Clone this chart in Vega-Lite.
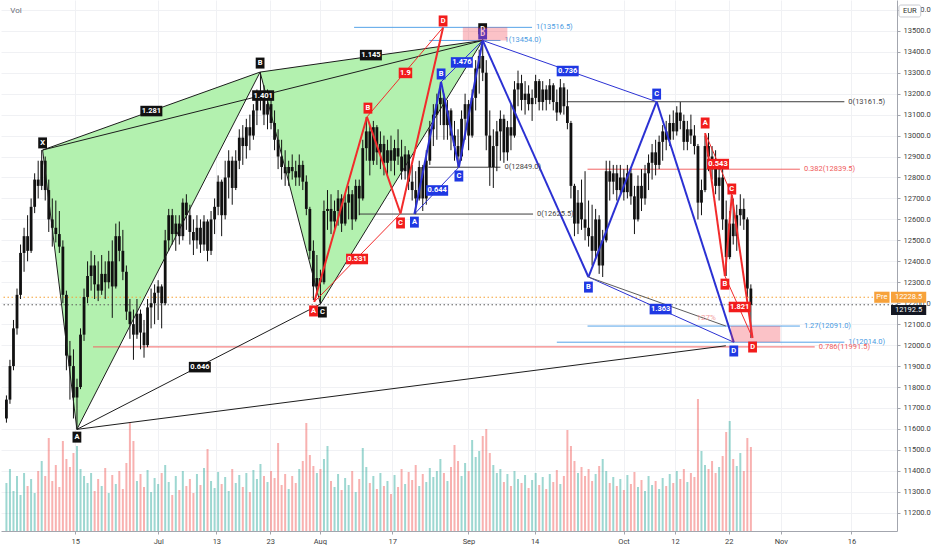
{
  "$schema": "https://vega.github.io/schema/vega-lite/v6.json",
  "description": "DAX futures Jun-Oct 2020 with harmonic XABCD / ABCD pattern drawings",
  "width": 896,
  "height": 531,
  "padding": 0,
  "autosize": {"type": "pad"},
  "background": "#ffffff",
  "config": {
    "view": {"stroke": null},
    "font": "Roboto",
    "axis": {"labelFont": "Roboto", "labelFontSize": 7.5, "labelColor": "#3c3c3c", "domainColor": "#a3a6ae", "tickColor": "#a3a6ae", "gridColor": "#f0f1f4"},
    "text": {"font": "Roboto"}
  },
  "datasets": {
    "px": [
      {"t":-9.75,"o":11650,"h":11760,"l":11630,"c":11740,"v":48},
      {"t":-9.25,"o":11740,"h":11930,"l":11720,"c":11900,"v":62},
      {"t":-8.75,"o":11900,"h":12120,"l":11880,"c":12080,"v":40},
      {"t":-8.25,"o":12080,"h":12270,"l":12050,"c":12240,"v":55},
      {"t":-7.75,"o":12240,"h":12480,"l":12220,"c":12440,"v":36},
      {"t":-7.25,"o":12440,"h":12560,"l":12350,"c":12520,"v":58},
      {"t":-6.75,"o":12520,"h":12620,"l":12400,"c":12450,"v":45},
      {"t":-6.25,"o":12450,"h":12700,"l":12440,"c":12660,"v":52},
      {"t":-5.75,"o":12660,"h":12820,"l":12630,"c":12790,"v":38},
      {"t":-5.25,"o":12790,"h":12880,"l":12700,"c":12760,"v":60},
      {"t":-4.75,"o":12760,"h":12931,"l":12740,"c":12880,"v":70},
      {"t":-4.25,"o":12880,"h":12900,"l":12690,"c":12740,"v":55},
      {"t":-3.75,"o":12740,"h":12790,"l":12540,"c":12600,"v":93},
      {"t":-3.25,"o":12600,"h":12700,"l":12470,"c":12560,"v":50},
      {"t":-2.75,"o":12560,"h":12690,"l":12490,"c":12530,"v":66},
      {"t":-2.25,"o":12530,"h":12640,"l":12440,"c":12470,"v":44},
      {"t":-1.75,"o":12470,"h":12500,"l":12200,"c":12240,"v":90},
      {"t":-1.25,"o":12240,"h":12260,"l":11880,"c":11950,"v":72},
      {"t":-0.75,"o":11950,"h":12020,"l":11740,"c":11900,"v":64},
      {"t":-0.25,"o":11900,"h":11980,"l":11650,"c":11750,"v":78},
      {"t":0.25,"o":11750,"h":11840,"l":11598,"c":11800,"v":85},
      {"t":0.75,"o":11800,"h":12080,"l":11790,"c":12050,"v":62},
      {"t":1.25,"o":12050,"h":12270,"l":12020,"c":12230,"v":55},
      {"t":1.75,"o":12230,"h":12400,"l":12200,"c":12330,"v":48},
      {"t":2.25,"o":12330,"h":12450,"l":12260,"c":12380,"v":58},
      {"t":2.75,"o":12380,"h":12430,"l":12220,"c":12290,"v":40},
      {"t":3.25,"o":12290,"h":12400,"l":12210,"c":12260,"v":52},
      {"t":3.75,"o":12260,"h":12430,"l":12240,"c":12340,"v":45},
      {"t":4.25,"o":12340,"h":12400,"l":12220,"c":12300,"v":63},
      {"t":4.75,"o":12300,"h":12450,"l":12270,"c":12400,"v":38},
      {"t":5.25,"o":12400,"h":12500,"l":12130,"c":12280,"v":56},
      {"t":5.75,"o":12280,"h":12580,"l":12270,"c":12520,"v":47},
      {"t":6.25,"o":12520,"h":12590,"l":12400,"c":12450,"v":60},
      {"t":6.75,"o":12450,"h":12550,"l":12310,"c":12350,"v":42},
      {"t":7.25,"o":12350,"h":12380,"l":12120,"c":12160,"v":68},
      {"t":7.75,"o":12160,"h":12220,"l":12030,"c":12100,"v":108},
      {"t":8.25,"o":12100,"h":12170,"l":11930,"c":12050,"v":90},
      {"t":8.75,"o":12050,"h":12220,"l":12030,"c":12150,"v":50},
      {"t":9.25,"o":12150,"h":12170,"l":11980,"c":12060,"v":57},
      {"t":9.75,"o":12060,"h":12120,"l":11940,"c":12000,"v":44},
      {"t":10.25,"o":12000,"h":12220,"l":11990,"c":12180,"v":61},
      {"t":10.75,"o":12180,"h":12270,"l":12080,"c":12200,"v":39},
      {"t":11.25,"o":12200,"h":12290,"l":12100,"c":12250,"v":53},
      {"t":11.75,"o":12250,"h":12310,"l":12120,"c":12280,"v":47},
      {"t":12.25,"o":12280,"h":12290,"l":12080,"c":12200,"v":58},
      {"t":12.75,"o":12200,"h":12550,"l":12190,"c":12500,"v":66},
      {"t":13.25,"o":12500,"h":12650,"l":12450,"c":12620,"v":49},
      {"t":13.75,"o":12620,"h":12650,"l":12480,"c":12530,"v":36},
      {"t":14.25,"o":12530,"h":12620,"l":12450,"c":12580,"v":55},
      {"t":14.75,"o":12580,"h":12620,"l":12480,"c":12520,"v":41},
      {"t":15.25,"o":12520,"h":12700,"l":12500,"c":12680,"v":60},
      {"t":15.75,"o":12680,"h":12720,"l":12550,"c":12620,"v":45},
      {"t":16.25,"o":12620,"h":12670,"l":12480,"c":12540,"v":52},
      {"t":16.75,"o":12540,"h":12600,"l":12430,"c":12500,"v":38},
      {"t":17.25,"o":12500,"h":12620,"l":12460,"c":12560,"v":57},
      {"t":17.75,"o":12560,"h":12600,"l":12440,"c":12480,"v":46},
      {"t":18.25,"o":12480,"h":12620,"l":12450,"c":12590,"v":63},
      {"t":18.75,"o":12590,"h":12600,"l":12400,"c":12450,"v":82},
      {"t":19.25,"o":12450,"h":12640,"l":12430,"c":12600,"v":50},
      {"t":19.75,"o":12600,"h":12700,"l":12530,"c":12660,"v":43},
      {"t":20.25,"o":12660,"h":12810,"l":12620,"c":12780,"v":59},
      {"t":20.75,"o":12780,"h":12790,"l":12520,"c":12620,"v":47},
      {"t":21.25,"o":12620,"h":12880,"l":12600,"c":12800,"v":54},
      {"t":21.75,"o":12800,"h":12930,"l":12700,"c":12880,"v":40},
      {"t":22.25,"o":12880,"h":12900,"l":12670,"c":12750,"v":62},
      {"t":22.75,"o":12750,"h":12930,"l":12740,"c":12880,"v":48},
      {"t":23.25,"o":12880,"h":13030,"l":12840,"c":12990,"v":56},
      {"t":23.75,"o":12990,"h":13050,"l":12860,"c":12950,"v":44},
      {"t":24.25,"o":12950,"h":13080,"l":12890,"c":13040,"v":58},
      {"t":24.75,"o":13040,"h":13100,"l":12930,"c":13000,"v":39},
      {"t":25.25,"o":13000,"h":13150,"l":12980,"c":13120,"v":61},
      {"t":25.75,"o":13120,"h":13220,"l":13050,"c":13190,"v":52},
      {"t":26.25,"o":13190,"h":13303,"l":13120,"c":13200,"v":67},
      {"t":26.75,"o":13200,"h":13240,"l":13050,"c":13100,"v":55},
      {"t":27.25,"o":13100,"h":13220,"l":13030,"c":13150,"v":49},
      {"t":27.75,"o":13150,"h":13190,"l":13030,"c":13060,"v":60},
      {"t":28.25,"o":13060,"h":13120,"l":12930,"c":12980,"v":53},
      {"t":28.75,"o":12980,"h":13030,"l":12840,"c":12900,"v":88},
      {"t":29.25,"o":12900,"h":12980,"l":12790,"c":12850,"v":46},
      {"t":29.75,"o":12850,"h":12930,"l":12760,"c":12820,"v":57},
      {"t":30.25,"o":12820,"h":12880,"l":12760,"c":12850,"v":42},
      {"t":30.75,"o":12850,"h":12910,"l":12790,"c":12830,"v":55},
      {"t":31.25,"o":12830,"h":12880,"l":12760,"c":12800,"v":48},
      {"t":31.75,"o":12800,"h":12910,"l":12760,"c":12860,"v":62},
      {"t":32.25,"o":12860,"h":12880,"l":12740,"c":12780,"v":70},
      {"t":32.75,"o":12780,"h":12810,"l":12620,"c":12650,"v":108},
      {"t":33.25,"o":12650,"h":12660,"l":12410,"c":12450,"v":76},
      {"t":33.75,"o":12450,"h":12500,"l":12215,"c":12280,"v":65},
      {"t":34.25,"o":12280,"h":12430,"l":12240,"c":12320,"v":58},
      {"t":34.75,"o":12320,"h":12360,"l":12196,"c":12300,"v":62},
      {"t":35.25,"o":12300,"h":12690,"l":12290,"c":12640,"v":72},
      {"t":35.75,"o":12640,"h":12740,"l":12550,"c":12650,"v":85},
      {"t":36.25,"o":12650,"h":12720,"l":12530,"c":12590,"v":50},
      {"t":36.75,"o":12590,"h":12690,"l":12550,"c":12640,"v":44},
      {"t":37.25,"o":12640,"h":12740,"l":12570,"c":12700,"v":57},
      {"t":37.75,"o":12700,"h":12720,"l":12540,"c":12580,"v":41},
      {"t":38.25,"o":12580,"h":12720,"l":12570,"c":12680,"v":53},
      {"t":38.75,"o":12680,"h":12760,"l":12600,"c":12720,"v":46},
      {"t":39.25,"o":12720,"h":12740,"l":12550,"c":12600,"v":60},
      {"t":39.75,"o":12600,"h":12790,"l":12590,"c":12760,"v":39},
      {"t":40.25,"o":12760,"h":12790,"l":12620,"c":12700,"v":52},
      {"t":40.75,"o":12700,"h":12980,"l":12690,"c":12940,"v":83},
      {"t":41.25,"o":12940,"h":13089,"l":12880,"c":13020,"v":64},
      {"t":41.75,"o":13020,"h":13050,"l":12810,"c":12880,"v":48},
      {"t":42.25,"o":12880,"h":13070,"l":12860,"c":13040,"v":55},
      {"t":42.75,"o":13040,"h":13050,"l":12860,"c":12920,"v":42},
      {"t":43.25,"o":12920,"h":13020,"l":12840,"c":12960,"v":58},
      {"t":43.75,"o":12960,"h":13000,"l":12810,"c":12870,"v":45},
      {"t":44.25,"o":12870,"h":12980,"l":12810,"c":12930,"v":50},
      {"t":44.75,"o":12930,"h":13000,"l":12830,"c":12880,"v":37},
      {"t":45.25,"o":12880,"h":12980,"l":12810,"c":12940,"v":56},
      {"t":45.75,"o":12940,"h":13030,"l":12860,"c":12900,"v":44},
      {"t":46.25,"o":12900,"h":12980,"l":12790,"c":12830,"v":62},
      {"t":46.75,"o":12830,"h":12950,"l":12790,"c":12910,"v":47},
      {"t":47.25,"o":12910,"h":12930,"l":12740,"c":12780,"v":59},
      {"t":47.75,"o":12780,"h":12860,"l":12690,"c":12740,"v":51},
      {"t":48.25,"o":12740,"h":12830,"l":12625,"c":12700,"v":66},
      {"t":48.75,"o":12700,"h":12880,"l":12690,"c":12850,"v":45},
      {"t":49.25,"o":12850,"h":12860,"l":12640,"c":12700,"v":57},
      {"t":49.75,"o":12700,"h":12930,"l":12670,"c":12880,"v":49},
      {"t":50.25,"o":12880,"h":13070,"l":12860,"c":13030,"v":63},
      {"t":50.75,"o":13030,"h":13150,"l":12950,"c":13100,"v":54},
      {"t":51.25,"o":13100,"h":13200,"l":12980,"c":13150,"v":60},
      {"t":51.75,"o":13150,"h":13256,"l":13050,"c":13180,"v":72},
      {"t":52.25,"o":13180,"h":13200,"l":12980,"c":13050,"v":58},
      {"t":52.75,"o":13050,"h":13170,"l":12980,"c":13120,"v":50},
      {"t":53.25,"o":13120,"h":13130,"l":12930,"c":13000,"v":64},
      {"t":53.75,"o":13000,"h":13070,"l":12880,"c":12950,"v":86},
      {"t":54.25,"o":12950,"h":13030,"l":12849,"c":12900,"v":70},
      {"t":54.75,"o":12900,"h":13120,"l":12880,"c":13080,"v":55},
      {"t":55.25,"o":13080,"h":13200,"l":12980,"c":13150,"v":68},
      {"t":55.75,"o":13150,"h":13170,"l":12930,"c":13000,"v":60},
      {"t":56.25,"o":13000,"h":13220,"l":12990,"c":13180,"v":91},
      {"t":56.75,"o":13180,"h":13360,"l":13120,"c":13320,"v":74},
      {"t":57.25,"o":13320,"h":13410,"l":13200,"c":13380,"v":80},
      {"t":57.75,"o":13380,"h":13460,"l":13260,"c":13300,"v":95},
      {"t":58.25,"o":13300,"h":13360,"l":12930,"c":13000,"v":102},
      {"t":58.75,"o":13000,"h":13120,"l":12760,"c":12850,"v":78},
      {"t":59.25,"o":12850,"h":13030,"l":12750,"c":12950,"v":66},
      {"t":59.75,"o":12950,"h":13070,"l":12830,"c":13020,"v":58},
      {"t":60.25,"o":13020,"h":13120,"l":12880,"c":13080,"v":62},
      {"t":60.75,"o":13080,"h":13100,"l":12870,"c":12920,"v":49},
      {"t":61.25,"o":12920,"h":13070,"l":12880,"c":13040,"v":57},
      {"t":61.75,"o":13040,"h":13150,"l":12930,"c":13000,"v":45},
      {"t":62.25,"o":13000,"h":13260,"l":12990,"c":13220,"v":60},
      {"t":62.75,"o":13220,"h":13310,"l":13140,"c":13250,"v":52},
      {"t":63.25,"o":13250,"h":13290,"l":13120,"c":13170,"v":48},
      {"t":63.75,"o":13170,"h":13260,"l":13100,"c":13200,"v":56},
      {"t":64.25,"o":13200,"h":13240,"l":13120,"c":13150,"v":43},
      {"t":64.75,"o":13150,"h":13220,"l":13070,"c":13180,"v":51},
      {"t":65.25,"o":13180,"h":13290,"l":13150,"c":13260,"v":58},
      {"t":65.75,"o":13260,"h":13270,"l":13120,"c":13160,"v":46},
      {"t":66.25,"o":13160,"h":13260,"l":13120,"c":13220,"v":54},
      {"t":66.75,"o":13220,"h":13240,"l":13120,"c":13170,"v":42},
      {"t":67.25,"o":13170,"h":13270,"l":13150,"c":13240,"v":57},
      {"t":67.75,"o":13240,"h":13250,"l":13120,"c":13160,"v":49},
      {"t":68.25,"o":13160,"h":13220,"l":13070,"c":13110,"v":61},
      {"t":68.75,"o":13110,"h":13270,"l":13100,"c":13230,"v":47},
      {"t":69.25,"o":13230,"h":13250,"l":13100,"c":13140,"v":55},
      {"t":69.75,"o":13140,"h":13220,"l":13030,"c":13060,"v":101},
      {"t":70.25,"o":13060,"h":13070,"l":12700,"c":12760,"v":85},
      {"t":70.75,"o":12760,"h":12770,"l":12520,"c":12580,"v":70},
      {"t":71.25,"o":12580,"h":12740,"l":12530,"c":12680,"v":58},
      {"t":71.75,"o":12680,"h":12790,"l":12550,"c":12600,"v":64},
      {"t":72.25,"o":12600,"h":12830,"l":12500,"c":12560,"v":55},
      {"t":72.75,"o":12560,"h":12690,"l":12470,"c":12520,"v":62},
      {"t":73.25,"o":12520,"h":12670,"l":12380,"c":12450,"v":50},
      {"t":73.75,"o":12450,"h":12650,"l":12410,"c":12600,"v":57},
      {"t":74.25,"o":12600,"h":12620,"l":12340,"c":12380,"v":65},
      {"t":74.75,"o":12380,"h":12550,"l":12325,"c":12500,"v":72},
      {"t":75.25,"o":12500,"h":12880,"l":12490,"c":12830,"v":60},
      {"t":75.75,"o":12830,"h":12880,"l":12690,"c":12780,"v":48},
      {"t":76.25,"o":12780,"h":12860,"l":12720,"c":12820,"v":54},
      {"t":76.75,"o":12820,"h":12860,"l":12690,"c":12740,"v":45},
      {"t":77.25,"o":12740,"h":12860,"l":12720,"c":12800,"v":52},
      {"t":77.75,"o":12800,"h":12840,"l":12690,"c":12730,"v":41},
      {"t":78.25,"o":12730,"h":12860,"l":12700,"c":12820,"v":56},
      {"t":78.75,"o":12820,"h":12840,"l":12670,"c":12710,"v":47},
      {"t":79.25,"o":12710,"h":12760,"l":12530,"c":12600,"v":59},
      {"t":79.75,"o":12600,"h":12810,"l":12590,"c":12760,"v":44},
      {"t":80.25,"o":12760,"h":12840,"l":12640,"c":12700,"v":51},
      {"t":80.75,"o":12700,"h":12860,"l":12670,"c":12820,"v":40},
      {"t":81.25,"o":12820,"h":12910,"l":12740,"c":12870,"v":55},
      {"t":81.75,"o":12870,"h":12960,"l":12790,"c":12920,"v":46},
      {"t":82.25,"o":12920,"h":12980,"l":12810,"c":12860,"v":50},
      {"t":82.75,"o":12860,"h":13000,"l":12840,"c":12970,"v":42},
      {"t":83.25,"o":12970,"h":13050,"l":12880,"c":13020,"v":53},
      {"t":83.75,"o":13020,"h":13070,"l":12930,"c":12980,"v":45},
      {"t":84.25,"o":12980,"h":13100,"l":12950,"c":13060,"v":57},
      {"t":84.75,"o":13060,"h":13120,"l":12980,"c":13020,"v":48},
      {"t":85.25,"o":13020,"h":13140,"l":13000,"c":13110,"v":60},
      {"t":85.75,"o":13110,"h":13160,"l":13030,"c":13070,"v":52},
      {"t":86.25,"o":13070,"h":13100,"l":12930,"c":12970,"v":62},
      {"t":86.75,"o":12970,"h":13070,"l":12930,"c":13030,"v":49},
      {"t":87.25,"o":13030,"h":13100,"l":12960,"c":13000,"v":58},
      {"t":87.75,"o":13000,"h":13050,"l":12910,"c":12950,"v":54},
      {"t":88.25,"o":12950,"h":12960,"l":12600,"c":12680,"v":132},
      {"t":88.75,"o":12680,"h":12790,"l":12620,"c":12740,"v":80},
      {"t":89.25,"o":12740,"h":13000,"l":12730,"c":12950,"v":66},
      {"t":89.75,"o":12950,"h":13012,"l":12830,"c":12900,"v":62},
      {"t":90.25,"o":12900,"h":12950,"l":12790,"c":12850,"v":70},
      {"t":90.75,"o":12850,"h":12930,"l":12720,"c":12760,"v":58},
      {"t":91.25,"o":12760,"h":12880,"l":12690,"c":12800,"v":64},
      {"t":91.75,"o":12800,"h":12840,"l":12550,"c":12600,"v":75},
      {"t":92.25,"o":12600,"h":12690,"l":12330,"c":12420,"v":99},
      {"t":92.75,"o":12420,"h":12640,"l":12410,"c":12580,"v":110},
      {"t":93.25,"o":12580,"h":12700,"l":12480,"c":12520,"v":72},
      {"t":93.75,"o":12520,"h":12670,"l":12450,"c":12620,"v":65},
      {"t":94.25,"o":12620,"h":12720,"l":12570,"c":12650,"v":78},
      {"t":94.75,"o":12650,"h":12700,"l":12550,"c":12600,"v":60},
      {"t":95.25,"o":12600,"h":12610,"l":12230,"c":12270,"v":93},
      {"t":95.75,"o":12270,"h":12290,"l":12034,"c":12192.5,"v":84}
    ],
    "fills": [
      {"tri":"XAB","t":-4.62,"top":12931,"bot":12931},
      {"tri":"XAB","t":0.24,"top":12990,"bot":11598},
      {"tri":"XAB","t":26.2,"top":13303,"bot":13303},
      {"tri":"BCD","t":26.2,"top":13303,"bot":13303},
      {"tri":"BCD","t":34.75,"top":13344,"bot":12196},
      {"tri":"BCD","t":57.74,"top":13454,"bot":13454}
    ],
    "zones": [
      {"zone":"D top","t1":54.93,"t2":61.24,"p1":13454,"p2":13516.5},
      {"zone":"D bottom","t1":92.91,"t2":99.92,"p1":12014,"p2":12091}
    ],
    "fibs": [
      {"lab":"1(13516.5)","grp":"blue","p":13516.5,"t1":39.52,"t2":64.74},
      {"lab":"1(13454.0)","grp":"blue","p":13454,"t1":50.17,"t2":60.26},
      {"lab":"0(12849.0)","grp":"grey","p":12849,"t1":50.03,"t2":60.26},
      {"lab":"0(12625.5)","grp":"grey","p":12625.5,"t1":40.22,"t2":64.88},
      {"lab":"0(13161.5)","grp":"grey","p":13161.5,"t1":69.65,"t2":109.0},
      {"lab":"0.382(12839.5)","grp":"red","p":12839.5,"t1":72.6,"t2":102.7},
      {"lab":"1.27(12091.0)","grp":"blue","p":12091,"t1":72.6,"t2":102.7},
      {"lab":"1(12014.0)","grp":"blue","p":12014,"t1":68.25,"t2":109.0},
      {"lab":"0.786(11991.5)","grp":"red","p":11991.5,"t1":2.52,"t2":104.8}
    ],
    "legs": [
      {"grp":"green","role":"leg","t1":-4.62,"p1":12931,"t2":0.24,"p2":11598},
      {"grp":"green","role":"leg","t1":0.24,"p1":11598,"t2":26.2,"p2":13303},
      {"grp":"green","role":"leg","t1":26.2,"p1":13303,"t2":34.75,"p2":12196},
      {"grp":"green","role":"leg","t1":34.75,"p1":12196,"t2":57.74,"p2":13454},
      {"grp":"green","role":"ratio","t1":-4.62,"p1":12931,"t2":26.2,"p2":13303},
      {"grp":"green","role":"ratio","t1":0.24,"p1":11598,"t2":34.75,"p2":12196},
      {"grp":"green","role":"ratio","t1":26.2,"p1":13303,"t2":57.74,"p2":13454},
      {"grp":"green","role":"ratio","t1":-4.62,"p1":12931,"t2":57.74,"p2":13454},
      {"grp":"red1","role":"leg","t1":33.87,"p1":12206,"t2":41.34,"p2":13089},
      {"grp":"red1","role":"leg","t1":41.34,"p1":13089,"t2":46.1,"p2":12628},
      {"grp":"red1","role":"leg","t1":46.1,"p1":12628,"t2":52.13,"p2":13516},
      {"grp":"red1","role":"ratio","t1":33.87,"p1":12206,"t2":46.1,"p2":12628},
      {"grp":"red1","role":"ratio","t1":41.34,"p1":13089,"t2":52.13,"p2":13516},
      {"grp":"blue1","role":"leg","t1":48.07,"p1":12625.5,"t2":51.85,"p2":13256},
      {"grp":"blue1","role":"leg","t1":51.85,"p1":13256,"t2":54.37,"p2":12849},
      {"grp":"blue1","role":"leg","t1":54.37,"p1":12849,"t2":57.74,"p2":13454},
      {"grp":"blue1","role":"ratio","t1":48.07,"p1":12625.5,"t2":54.37,"p2":12849},
      {"grp":"blue1","role":"ratio","t1":51.85,"p1":13256,"t2":57.74,"p2":13454},
      {"grp":"blue2","role":"leg","t1":57.74,"p1":13454,"t2":72.73,"p2":12325},
      {"grp":"blue2","role":"leg","t1":72.73,"p1":12325,"t2":82.4,"p2":13161.5},
      {"grp":"blue2","role":"leg","t1":82.4,"p1":13161.5,"t2":93.33,"p2":12014},
      {"grp":"blue2","role":"ratio","t1":57.74,"p1":13454,"t2":82.4,"p2":13161.5},
      {"grp":"blue2","role":"ratio","t1":72.73,"p1":12325,"t2":93.33,"p2":12014},
      {"grp":"red2","role":"leg","t1":89.27,"p1":13012,"t2":92.07,"p2":12330},
      {"grp":"red2","role":"leg","t1":92.07,"p1":12330,"t2":93.05,"p2":12716},
      {"grp":"red2","role":"leg","t1":93.05,"p1":12716,"t2":95.99,"p2":12034},
      {"grp":"red2","role":"ratio","t1":89.27,"p1":13012,"t2":93.05,"p2":12716},
      {"grp":"red2","role":"ratio","t1":92.07,"p1":12330,"t2":95.99,"p2":12034},
      {"grp":"black","role":"ratio","t1":0.24,"p1":11598,"t2":92.2,"p2":11997},
      {"grp":"grey","role":"ratio","t1":72.73,"p1":12325,"t2":92.2,"p2":12091}
    ],
    "labels": [
      {"lab":"X","grp":"green","t":-4.62,"p":12965},
      {"lab":"A","grp":"green","t":0.24,"p":11561},
      {"lab":"B","grp":"green","t":26.2,"p":13346},
      {"lab":"C","grp":"green","t":35.03,"p":12158},
      {"lab":"D","grp":"green","t":57.74,"p":13510},
      {"lab":"1.281","grp":"green","t":10.79,"p":13117},
      {"lab":"1.401","grp":"green","t":26.63,"p":13191},
      {"lab":"1.145","grp":"green","t":41.9,"p":13384},
      {"lab":"0.646","grp":"green","t":17.66,"p":11895},
      {"lab":"A","grp":"red1","t":33.77,"p":12163},
      {"lab":"B","grp":"red1","t":41.48,"p":13131},
      {"lab":"C","grp":"red1","t":46.1,"p":12583},
      {"lab":"D","grp":"red1","t":52.13,"p":13547},
      {"lab":"1.9","grp":"red1","t":46.8,"p":13299},
      {"lab":"0.531","grp":"red1","t":39.94,"p":12411},
      {"lab":"A","grp":"blue1","t":48.07,"p":12587},
      {"lab":"B","grp":"blue1","t":51.85,"p":13294},
      {"lab":"C","grp":"blue1","t":54.37,"p":12807},
      {"lab":"D","grp":"blue1","t":57.74,"p":13485},
      {"lab":"0.644","grp":"blue1","t":51.29,"p":12738},
      {"lab":"1.476","grp":"blue1","t":54.79,"p":13349},
      {"lab":"B","grp":"blue2","t":72.73,"p":12277},
      {"lab":"C","grp":"blue2","t":82.4,"p":13198},
      {"lab":"D","grp":"blue2","t":93.33,"p":11972},
      {"lab":"0.736","grp":"blue2","t":69.79,"p":13308},
      {"lab":"1.363","grp":"blue2","t":82.96,"p":12172},
      {"lab":"A","grp":"red2","t":89.27,"p":13060},
      {"lab":"B","grp":"red2","t":92.07,"p":12291},
      {"lab":"C","grp":"red2","t":93.05,"p":12745},
      {"lab":"D","grp":"red2","t":95.99,"p":11991},
      {"lab":"0.543","grp":"red2","t":91.09,"p":12864},
      {"lab":"1.821","grp":"red2","t":94.17,"p":12182}
    ],
    "levels": [
      {"lvl":"pre","p":12228.5},
      {"lvl":"last","p":12192.5}
    ]
  },
  "layer": [
    {
      "data": {"name": "px"},
      "mark": {"type": "bar", "size": 2, "clip": true, "opacity": 0.45},
      "encoding": {
        "x": {"field": "t", "type": "quantitative", "title": null},
        "y": {"field": "v", "type": "quantitative", "title": null, "scale": {"domain": [0, 531], "nice": false, "zero": true}, "axis": null},
        "color": {"condition": {"test": "datum.c >= datum.o", "value": "#26a69a"}, "value": "#ef5350"}
      }
    },
    {
      "layer": [
        {
          "data": {"name": "fills"},
          "mark": {"type": "area", "color": "#b3f1af", "opacity": 1, "clip": true},
          "encoding": {
            "x": {
              "field": "t", "type": "quantitative", "title": null,
              "scale": {"domain": [-9.81, 115.75], "nice": false, "zero": false},
              "axis": {
                "values": [0, 11.77, 20, 27.65, 34.66, 44.94, 55.73, 65.1, 77.7, 85, 92.6, 100, 110],
                "labelExpr": "datum.value < 6 ? '15' : datum.value < 16 ? 'Jul' : datum.value < 24 ? '13' : datum.value < 31 ? '23' : datum.value < 40 ? 'Aug' : datum.value < 50 ? '17' : datum.value < 60 ? 'Sep' : datum.value < 70 ? '14' : datum.value < 80 ? 'Oct' : datum.value < 89 ? '12' : datum.value < 96 ? '22' : datum.value < 105 ? 'Nov' : '16'",
                "tickCount": 30, "grid": true, "tickSize": 3, "labelPadding": 3, "labelFlush": false, "labelOverlap": false
              }
            },
            "y": {
              "field": "top", "type": "quantitative", "title": null,
              "scale": {"domain": [11113, 13647], "nice": false, "zero": false},
              "axis": {
                "orient": "right",
                "values": [11200, 11300, 11400, 11500, 11600, 11700, 11800, 11900, 12000, 12100, 12200, 12300, 12400, 12500, 12600, 12700, 12800, 12900, 13000, 13100, 13200, 13300, 13400, 13500, 13600],
                "tickCount": 30, "format": ".1f", "grid": true, "tickSize": 3, "labelPadding": 3, "labelFlush": false, "labelOverlap": false
              }
            },
            "y2": {"field": "bot"},
            "detail": {"field": "tri", "type": "nominal"}
          }
        },
        {
          "data": {"name": "fibs"},
          "mark": {"type": "rule", "strokeWidth": 1},
          "encoding": {
            "x": {"field": "t1", "type": "quantitative", "title": null},
            "x2": {"field": "t2"},
            "y": {"field": "p", "type": "quantitative", "title": null},
            "color": {"condition": [{"test": "datum.grp == 'blue'", "value": "#55a3e8"}, {"test": "datum.grp == 'red'", "value": "#f26565"}], "value": "#3c3c3c"}
          }
        },
        {
          "data": {"name": "levels"},
          "mark": {"type": "rule", "strokeWidth": 1, "strokeDash": [1.5, 2.5]},
          "encoding": {
            "y": {"field": "p", "type": "quantitative", "title": null},
            "color": {"condition": {"test": "datum.lvl == 'pre'", "value": "#f5a033"}, "value": "#5a5a5a"}
          }
        },
        {
          "data": {"name": "px"},
          "mark": {"type": "rule", "strokeWidth": 1, "color": "#111111", "clip": true},
          "encoding": {
            "x": {"field": "t", "type": "quantitative", "title": null},
            "y": {"field": "l", "type": "quantitative", "title": null},
            "y2": {"field": "h"}
          }
        },
        {
          "data": {"name": "px"},
          "mark": {"type": "bar", "size": 2.8, "color": "#111111", "clip": true},
          "encoding": {
            "x": {"field": "t", "type": "quantitative", "title": null},
            "y": {"field": "o", "type": "quantitative", "title": null},
            "y2": {"field": "c"}
          }
        },
        {
          "data": {"name": "legs"},
          "mark": {"type": "rule"},
          "encoding": {
            "x": {"field": "t1", "type": "quantitative", "title": null},
            "x2": {"field": "t2"},
            "y": {"field": "p1", "type": "quantitative", "title": null},
            "y2": {"field": "p2"},
            "color": {"condition": [{"test": "indexof(datum.grp, 'red') == 0", "value": "#f22b2b"}, {"test": "indexof(datum.grp, 'blue') == 0", "value": "#2b31d3"}, {"test": "datum.grp == 'grey'", "value": "#5c5c5c"}], "value": "#1d1d1d"},
            "strokeWidth": {"condition": {"test": "datum.role == 'leg' && datum.grp != 'green'", "value": 2}, "value": 1}
          }
        },
        {
          "data": {"values": [{"txt": "127%", "t": 89.4, "p": 12129}]},
          "mark": {"type": "text", "fontSize": 8, "color": "#f3a0a0"},
          "encoding": {
            "x": {"field": "t", "type": "quantitative", "title": null},
            "y": {"field": "p", "type": "quantitative", "title": null},
            "text": {"field": "txt"}
          }
        },
        {
          "data": {"name": "fibs"},
          "mark": {"type": "text", "fontSize": 7.5, "align": "left", "dx": 4},
          "encoding": {
            "x": {"field": "t2", "type": "quantitative", "title": null},
            "y": {"field": "p", "type": "quantitative", "title": null},
            "text": {"field": "lab"},
            "color": {"condition": [{"test": "datum.grp == 'blue'", "value": "#4a9be2"}, {"test": "datum.grp == 'red'", "value": "#ef5b5b"}], "value": "#444444"}
          }
        },
        {
          "data": {"name": "labels"},
          "transform": [{"filter": "length(datum.lab) == 1"}],
          "mark": {"type": "point", "shape": "M-0.8,-1H0.8V1H-0.8Z", "size": 121, "filled": true, "opacity": 1},
          "encoding": {
            "x": {"field": "t", "type": "quantitative", "title": null},
            "y": {"field": "p", "type": "quantitative", "title": null},
            "color": {"condition": [{"test": "indexof(datum.grp, 'red') == 0", "value": "#f21c1c"}, {"test": "indexof(datum.grp, 'blue') == 0", "value": "#1f38e3"}], "value": "#111111"}
          }
        },
        {
          "data": {"name": "labels"},
          "transform": [{"filter": "length(datum.lab) > 3"}],
          "mark": {"type": "point", "shape": "M-1,-0.48H1V0.48H-1Z", "size": 484, "filled": true, "opacity": 1},
          "encoding": {
            "x": {"field": "t", "type": "quantitative", "title": null},
            "y": {"field": "p", "type": "quantitative", "title": null},
            "color": {"condition": [{"test": "indexof(datum.grp, 'red') == 0", "value": "#f21c1c"}, {"test": "indexof(datum.grp, 'blue') == 0", "value": "#1f38e3"}], "value": "#111111"}
          }
        },
        {
          "data": {"name": "labels"},
          "transform": [{"filter": "length(datum.lab) == 3"}],
          "mark": {"type": "point", "shape": "M-1,-0.78H1V0.78H-1Z", "size": 182, "filled": true, "opacity": 1},
          "encoding": {
            "x": {"field": "t", "type": "quantitative", "title": null},
            "y": {"field": "p", "type": "quantitative", "title": null},
            "color": {"condition": [{"test": "indexof(datum.grp, 'red') == 0", "value": "#f21c1c"}, {"test": "indexof(datum.grp, 'blue') == 0", "value": "#1f38e3"}], "value": "#111111"}
          }
        },
        {
          "data": {"name": "labels"},
          "mark": {"type": "text", "fontSize": 7.5, "fontWeight": "bold", "color": "#ffffff"},
          "encoding": {
            "x": {"field": "t", "type": "quantitative", "title": null},
            "y": {"field": "p", "type": "quantitative", "title": null},
            "text": {"field": "lab"}
          }
        },
        {
          "data": {"name": "zones"},
          "mark": {"type": "rect", "color": "#f23645", "opacity": 0.3},
          "encoding": {
            "x": {"field": "t1", "type": "quantitative", "title": null},
            "x2": {"field": "t2"},
            "y": {"field": "p1", "type": "quantitative", "title": null},
            "y2": {"field": "p2"}
          }
        },
        {
          "data": {"values": [{}]},
          "mark": {"type": "text", "fontSize": 8, "align": "left", "color": "#6a6d78"},
          "encoding": {
            "x": {"datum": -9.2, "type": "quantitative"},
            "y": {"datum": 13595, "type": "quantitative"},
            "text": {"value": "Vol"}
          }
        },
        {
          "data": {"values": [{}]},
          "mark": {"type": "rect", "fill": "#ffffff", "stroke": "#c9cbd1", "strokeWidth": 1, "cornerRadius": 2},
          "encoding": {
            "x": {"datum": 116.73, "type": "quantitative"},
            "x2": {"datum": 119.82},
            "y": {"datum": 13623, "type": "quantitative"},
            "y2": {"datum": 13566}
          }
        },
        {
          "data": {"values": [{}]},
          "mark": {"type": "text", "fontSize": 7.5, "color": "#333333"},
          "encoding": {
            "x": {"datum": 118.27, "type": "quantitative"},
            "y": {"datum": 13595, "type": "quantitative"},
            "text": {"value": "EUR"}
          }
        },
        {
          "data": {"values": [{}]},
          "mark": {"type": "rect", "color": "#f7a23b"},
          "encoding": {
            "x": {"datum": 113.23, "type": "quantitative"},
            "x2": {"datum": 115.4},
            "y": {"datum": 12255, "type": "quantitative"},
            "y2": {"datum": 12202}
          }
        },
        {
          "data": {"values": [{}]},
          "mark": {"type": "rect", "color": "#f7a23b"},
          "encoding": {
            "x": {"datum": 115.61, "type": "quantitative"},
            "x2": {"datum": 120.6},
            "y": {"datum": 12255, "type": "quantitative"},
            "y2": {"datum": 12202}
          }
        },
        {
          "data": {"values": [{}]},
          "mark": {"type": "rect", "color": "#131722"},
          "encoding": {
            "x": {"datum": 115.61, "type": "quantitative"},
            "x2": {"datum": 120.6},
            "y": {"datum": 12192, "type": "quantitative"},
            "y2": {"datum": 12144}
          }
        },
        {
          "data": {"values": [{}]},
          "mark": {"type": "text", "fontSize": 7.5, "color": "#ffffff"},
          "encoding": {
            "x": {"datum": 114.31, "type": "quantitative"},
            "y": {"datum": 12228.5, "type": "quantitative"},
            "text": {"value": "Pre"}
          }
        },
        {
          "data": {"values": [{}]},
          "mark": {"type": "text", "fontSize": 7.5, "color": "#ffffff"},
          "encoding": {
            "x": {"datum": 118.1, "type": "quantitative"},
            "y": {"datum": 12228.5, "type": "quantitative"},
            "text": {"value": "12228.5"}
          }
        },
        {
          "data": {"values": [{}]},
          "mark": {"type": "text", "fontSize": 7.5, "color": "#ffffff"},
          "encoding": {
            "x": {"datum": 118.1, "type": "quantitative"},
            "y": {"datum": 12168, "type": "quantitative"},
            "text": {"value": "12192.5"}
          }
        }
      ]
    }
  ],
  "resolve": {"scale": {"y": "independent"}}
}
